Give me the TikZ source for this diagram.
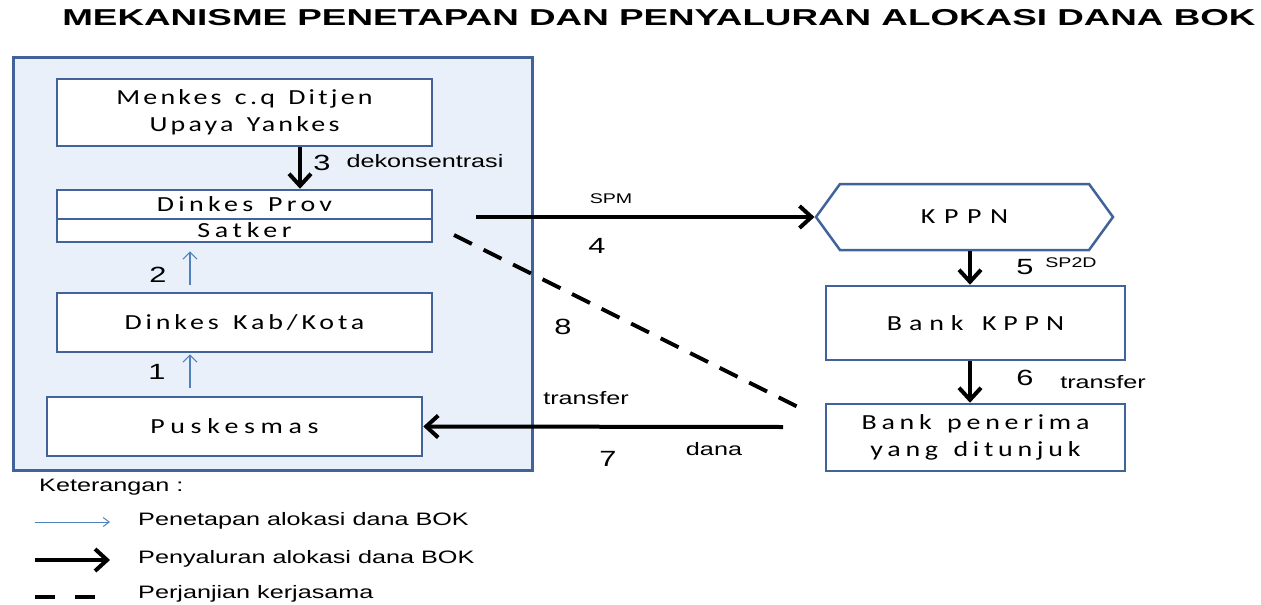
\documentclass[tikz,border=0pt]{standalone}
\usepackage{fontspec}
\setmainfont{Liberation Sans}
\newfontfamily\judulfont[FakeStretch=1.6]{Liberation Sans}
\newfontfamily\kotakfont[FakeStretch=1.3,WordSpace=1.4]{Carlito}
\newfontfamily\labelfont[FakeStretch=1.4]{Liberation Sans}
\usetikzlibrary{arrows.meta,shapes.symbols}

\definecolor{panelbiru}{HTML}{EAF0F9}
\definecolor{garisbox}{HTML}{41639A}
\definecolor{panahbiru}{HTML}{4F81BD}

\begin{document}
\begin{tikzpicture}[x=1pt,y=-1pt,
    kotak/.style={draw=garisbox, line width=2.5pt, fill=white, inner sep=0pt,
        font=\kotakfont\addfontfeature{LetterSpace=#1}\fontsize{21.5}{27}\selectfont, align=center},
    kotak/.default=18,
    salur/.style={line width=4pt, -{Straight Barb[length=12pt,width=22pt]}},
    tetap/.style={draw=panahbiru, line width=1.2pt, -{Straight Barb[length=7pt,width=14pt]}},
    kerja/.style={line width=4pt, dash pattern=on 20pt off 13pt},
    lbl/.style={font=\labelfont\fontsize{18}{20}\selectfont, inner sep=0pt},
    lblkecil/.style={font=\labelfont\fontsize{14}{16}\selectfont, inner sep=0pt},
    angka/.style={font=\labelfont\fontsize{22}{24}\selectfont, inner sep=0pt}]
    \useasboundingbox (0,0) rectangle (1261,605);

    % Judul (Title)
    \node[font=\judulfont\bfseries\fontsize{23}{26}\selectfont] (judul) at (659,18)
        {MEKANISME PENETAPAN DAN PENYALURAN ALOKASI DANA BOK};

    % Panel kiri (Left panel)
    \draw[draw=garisbox, fill=panelbiru, line width=3pt] (13,57) rectangle (532,470);

    % Kotak-kotak (Boxes)
    \node[kotak=15, minimum width=375pt, minimum height=67pt] (menkes) at (244.5,112.5)
        {Menkes c.q Ditjen\\Upaya Yankes};
    \node[kotak=20, minimum width=375pt, minimum height=29pt] (prov) at (244.5,204.5) {Dinkes Prov};
    \node[kotak=22, minimum width=375pt, minimum height=23pt] (satker) at (244.5,230.5) {Satker};
    \node[kotak=18, minimum width=375pt, minimum height=59pt] (kab) at (244.5,322.5) {Dinkes Kab/Kota};
    \node[kotak=26, minimum width=375pt, minimum height=59pt] (puskesmas) at (234.5,426.5) {Puskesmas};

    \node[kotak=40, signal, signal to=west and east, signal pointer angle=108,
        minimum width=297pt, minimum height=66pt] (kppn) at (964.5,217) {KPPN};
    \node[kotak=32, minimum width=299pt, minimum height=74pt] (bankkppn) at (975.5,323) {Bank KPPN};
    \node[kotak=22, minimum width=299pt, minimum height=67pt] (penerima) at (975.5,437.5)
        {Bank penerima\\yang ditunjuk};

    % Titik bantu (Helper coordinates)
    \coordinate (x3) at (300,0);
    \coordinate (x12) at (190,0);
    \coordinate (x56) at (970,0);
    \coordinate (spm) at (476,217);
    \coordinate (trf) at (783,427);
    \coordinate (k1) at (454,235);
    \coordinate (k2) at (806,411);

    % Panah penyaluran (Distribution arrows)
    \draw[salur] (menkes.south -| x3) -- (prov.north -| x3);
    \draw[salur] (spm) -- (kppn.west);
    \draw[salur] (kppn.south -| x56) -- (bankkppn.north -| x56);
    \draw[salur] (bankkppn.south -| x56) -- (penerima.north -| x56);
    \draw[salur] (trf) -- (puskesmas.east);

    % Panah penetapan (Allocation arrows)
    \draw[tetap, shorten <=7pt, shorten >=8pt] (kab.north -| x12) -- (satker.south -| x12);
    \draw[tetap, shorten <=8pt, shorten >=1pt] (puskesmas.north -| x12) -- (kab.south -| x12);

    % Perjanjian (Agreement)
    \draw[kerja] (k1) -- (k2);

    % Nomor dan label (Numbers and labels)
    \node[angka] (n1) at (157,372) {1};
    \node[angka] (n2) at (158,275) {2};
    \node[angka] (n3) at (322,163) {3};
    \node[lbl] (dekon) at (425,161) {dekonsentrasi};
    \node[lblkecil] (spmlbl) at (611,199) {SPM};
    \node[angka] (n4) at (597,246) {4};
    \node[angka] (n5) at (1025,267) {5};
    \node[lblkecil] (sp2d) at (1071,263) {SP2D};
    \node[angka] (n6) at (1025,378) {6};
    \node[lbl] (trf6) at (1103,382) {transfer};
    \node[lbl] (trf7) at (586,398) {transfer};
    \node[lbl] (dana) at (714,449) {dana};
    \node[angka] (n7) at (608,459) {7};
    \node[angka] (n8) at (563,327) {8};

    % Keterangan (Legend)
    \node[lbl, anchor=west] (ket) at (39,487) {Keterangan :};
    \coordinate (l1a) at (35,522);
    \coordinate (l1b) at (110,522);
    \coordinate (l2a) at (35,560);
    \coordinate (l2b) at (110,560);
    \coordinate (l3a) at (35,597);
    \coordinate (l3b) at (95,597);
    \draw[tetap, line width=1pt, -{Straight Barb[length=6pt,width=9pt]}] (l1a) -- (l1b);
    \draw[salur] (l2a) -- (l2b);
    \draw[kerja, dash pattern=on 20pt off 20pt] (l3a) -- (l3b);
    \node[lbl, anchor=west] (ket1) at (138,521) {Penetapan alokasi dana BOK};
    \node[lbl, anchor=west] (ket2) at (138,559) {Penyaluran alokasi dana BOK};
    \node[lbl, anchor=west] (ket3) at (138,594) {Perjanjian kerjasama};

\end{tikzpicture}
\end{document}
